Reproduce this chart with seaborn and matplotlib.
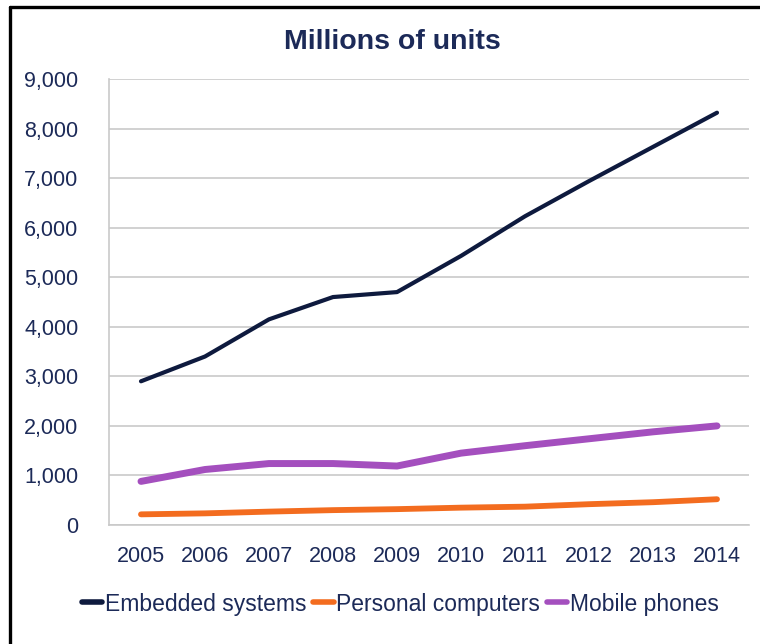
import matplotlib
matplotlib.use("Agg")
import matplotlib.pyplot as plt
import matplotlib.ticker as mticker
import pandas as pd
import seaborn as sns

years = ["2005", "2006", "2007", "2008", "2009", "2010", "2011", "2012", "2013", "2014"]
embedded = [2900, 3400, 4150, 4600, 4700, 5430, 6230, 6940, 7630, 8320]
personal = [215, 235, 270, 300, 320, 350, 370, 420, 460, 520]
mobile = [880, 1120, 1240, 1240, 1190, 1450, 1600, 1740, 1880, 2000]
series_names = ["Embedded systems", "Personal computers", "Mobile phones"]

df = pd.DataFrame({
    "year": years * 3,
    "units": embedded + personal + mobile,
    "series": [s for s in series_names for _ in years],
})

navy = "#1c2a58"
colors = {"Embedded systems": "#0e1a3e", "Personal computers": "#f36c1f", "Mobile phones": "#a44fbe"}
widths = {"Embedded systems": 3.0, "Personal computers": 4.2, "Mobile phones": 5.0}

sns.set_style("white")
plt.rcParams["font.family"] = ["Liberation Sans", "DejaVu Sans"]

fig = plt.figure(figsize=[7.6, 6.44], dpi=100)
ax = fig.add_axes([109 / 760, 1 - 525 / 644, 640 / 760, 446 / 644])

sns.lineplot(data=df, x="year", y="units", hue="series", palette=colors,
             sort=False, ax=ax, legend=False)
for line, name in zip(ax.lines, series_names):
    line.set_linewidth(widths[name])
    line.set_solid_capstyle("round")

ax.set_xlim(-0.5, 9.5)
ax.set_ylim(0, 9000)
ax.set_yticks(range(0, 9001, 1000))
ax.yaxis.set_major_formatter(mticker.FuncFormatter(lambda v, p: f"{int(v):,}"))
ax.grid(axis="y", color="#c9c9c9", linewidth=1.2)
ax.set_axisbelow(True)
ax.set_xlabel("")
ax.set_ylabel("")
ax.tick_params(axis="y", length=0, pad=22, labelsize=15.5, labelcolor=navy)
ax.tick_params(axis="x", length=0, pad=15, labelsize=15.5, labelcolor=navy)
for side in ["top", "right"]:
    ax.spines[side].set_visible(False)
for side in ["left", "bottom"]:
    ax.spines[side].set_color("#c9c9c9")
    ax.spines[side].set_linewidth(1.2)

fig.text(392 / 760, 1 - 42 / 644, "Millions of units", ha="center", va="center",
         fontsize=20.5, fontweight="bold", color=navy)

handles = [plt.Line2D([], [], color=colors[n], linewidth=4) for n in series_names]
fig.legend(handles, series_names, loc="center", bbox_to_anchor=(400 / 760, 1 - 604 / 644),
           ncol=3, frameon=False, fontsize=16.5, labelcolor=navy, handlelength=0.9,
           handletextpad=0.1, columnspacing=0.3)

# black frame on left and top edges
fig.add_artist(plt.Line2D([10 / 760, 10 / 760], [0, 1 - 7 / 644], color="black", linewidth=2.4,
                          transform=fig.transFigure))
fig.add_artist(plt.Line2D([10 / 760, 1], [1 - 7 / 644, 1 - 7 / 644], color="black", linewidth=2.4,
                          transform=fig.transFigure))

plt.savefig("out.png", dpi=100)
